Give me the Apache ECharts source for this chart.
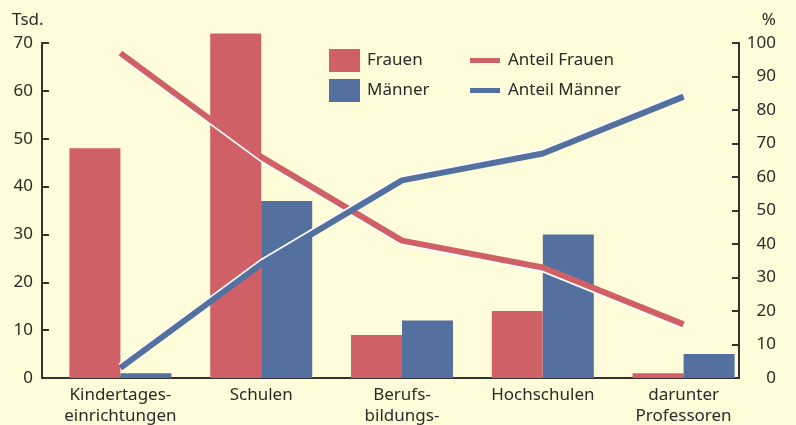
<!DOCTYPE html>
<html>
<head>
<meta charset="utf-8">
<script src="https://cdn.jsdelivr.net/npm/echarts@6/dist/echarts.min.js"></script>
<style>
html,body{margin:0;padding:0;background:#fefcd9;}
#c{width:796px;height:425px;}
</style>
</head>
<body>
<div id="c"></div>
<script>
var categories = ['Kindertages-\neinrichtungen', 'Schulen', 'Berufs-\nbildungs-\nstätten', 'Hochschulen', 'darunter\nProfessoren'];
var frauen = [48, 72, 9, 14, 1];
var maenner = [1, 37, 12, 30, 5];
var anteilFrauen = [97, 66, 41, 33, 16];
var anteilMaenner = [3, 34, 59, 67, 84];
var leftTicks = {min: 0, max: 70, interval: 10};
var rightTicks = {min: 0, max: 100, interval: 10};

var RED = '#cf6166', BLUE = '#53709f', TXT = '#2b2b2b', FONT = 'Noto Sans';
var chart = echarts.init(document.getElementById('c'), null, {renderer: 'canvas'});

var gridTop = 43, gridBottom = 47;
var valAxisBase = {
  type: 'value', splitLine: {show: false},
  axisLine: {show: true, lineStyle: {color: '#333', width: 2}},
  axisTick: {show: true, inside: true, length: 7, lineStyle: {color: '#333', width: 2}},
  axisLabel: {color: TXT, fontFamily: FONT, fontSize: 17}
};

chart.setOption({
  backgroundColor: '#fefcd9',
  animation: false,
  textStyle: {fontFamily: FONT},
  grid: [
    {left: 42, right: 57, top: gridTop, bottom: gridBottom, containLabel: false, outerBoundsMode: 'none'},
    {left: 50, right: 42, top: gridTop, bottom: gridBottom, containLabel: false, outerBoundsMode: 'none'}
  ],
  legend: [
    {
      data: ['Frauen', 'Männer'], orient: 'vertical', left: 324, top: 44,
      itemWidth: 31, itemHeight: 23, itemGap: 7, icon: 'rect',
      textStyle: {color: TXT, fontFamily: FONT, fontSize: 17, lineHeight: 23, padding: [0, 0, 0, 2]}
    },
    {
      data: ['Anteil Frauen', 'Anteil Männer'], orient: 'vertical', left: 465, top: 44,
      itemWidth: 30, itemHeight: 5, itemGap: 7, icon: 'rect',
      textStyle: {color: TXT, fontFamily: FONT, fontSize: 17, lineHeight: 23, padding: [0, 0, 0, 3]}
    }
  ],
  xAxis: [
    {type: 'category', gridIndex: 0, data: categories,
     axisLine: {show: true, lineStyle: {color: '#333', width: 2}},
     axisTick: {show: false}, axisLabel: {show: false}},
    {type: 'category', gridIndex: 1, data: categories,
     axisLine: {show: false}, axisTick: {show: false},
     axisLabel: {color: TXT, fontFamily: FONT, fontSize: 17, lineHeight: 21, margin: 7, interval: 0}}
  ],
  yAxis: [
    Object.assign({}, valAxisBase, leftTicks, {gridIndex: 0, position: 'left',
      name: 'Tsd.', nameLocation: 'end', nameGap: 14,
      nameTextStyle: {color: TXT, fontFamily: FONT, fontSize: 17, align: 'left', padding: [0, 0, 0, -30]},
      axisLabel: {color: TXT, fontFamily: FONT, fontSize: 17, margin: 9}}),
    Object.assign({}, valAxisBase, rightTicks, {gridIndex: 0, position: 'right',
      name: '%', nameLocation: 'end', nameGap: 14,
      nameTextStyle: {color: TXT, fontFamily: FONT, fontSize: 17, align: 'right', padding: [0, -37, 0, 0]},
      axisLabel: {color: TXT, fontFamily: FONT, fontSize: 17, margin: 37, align: 'right'}}),
    Object.assign({}, leftTicks, {type: 'value', gridIndex: 1, show: false}),
    Object.assign({}, rightTicks, {type: 'value', gridIndex: 1, show: false})
  ],
  series: [
    {name: 'Frauen', type: 'bar', xAxisIndex: 1, yAxisIndex: 2, data: frauen, clip: false,
     barWidth: 51, barGap: '0%', itemStyle: {color: RED}, z: 2},
    {name: 'Männer', type: 'bar', xAxisIndex: 1, yAxisIndex: 2, data: maenner, clip: false,
     barWidth: 51, barGap: '0%', itemStyle: {color: BLUE}, z: 2},
    {name: 'Anteil Frauen', type: 'line', xAxisIndex: 1, yAxisIndex: 3, data: anteilFrauen, clip: false,
     symbol: 'none', lineStyle: {color: RED, width: 6, shadowColor: '#ffffff', shadowOffsetY: 2, shadowBlur: 0},
     itemStyle: {color: RED}, z: 4},
    {name: 'Anteil Männer', type: 'line', xAxisIndex: 1, yAxisIndex: 3, data: anteilMaenner, clip: false,
     symbol: 'none', lineStyle: {color: BLUE, width: 6, shadowColor: '#ffffff', shadowOffsetY: -2, shadowBlur: 0},
     itemStyle: {color: BLUE}, z: 4}
  ]
});
</script>
</body>
</html>
